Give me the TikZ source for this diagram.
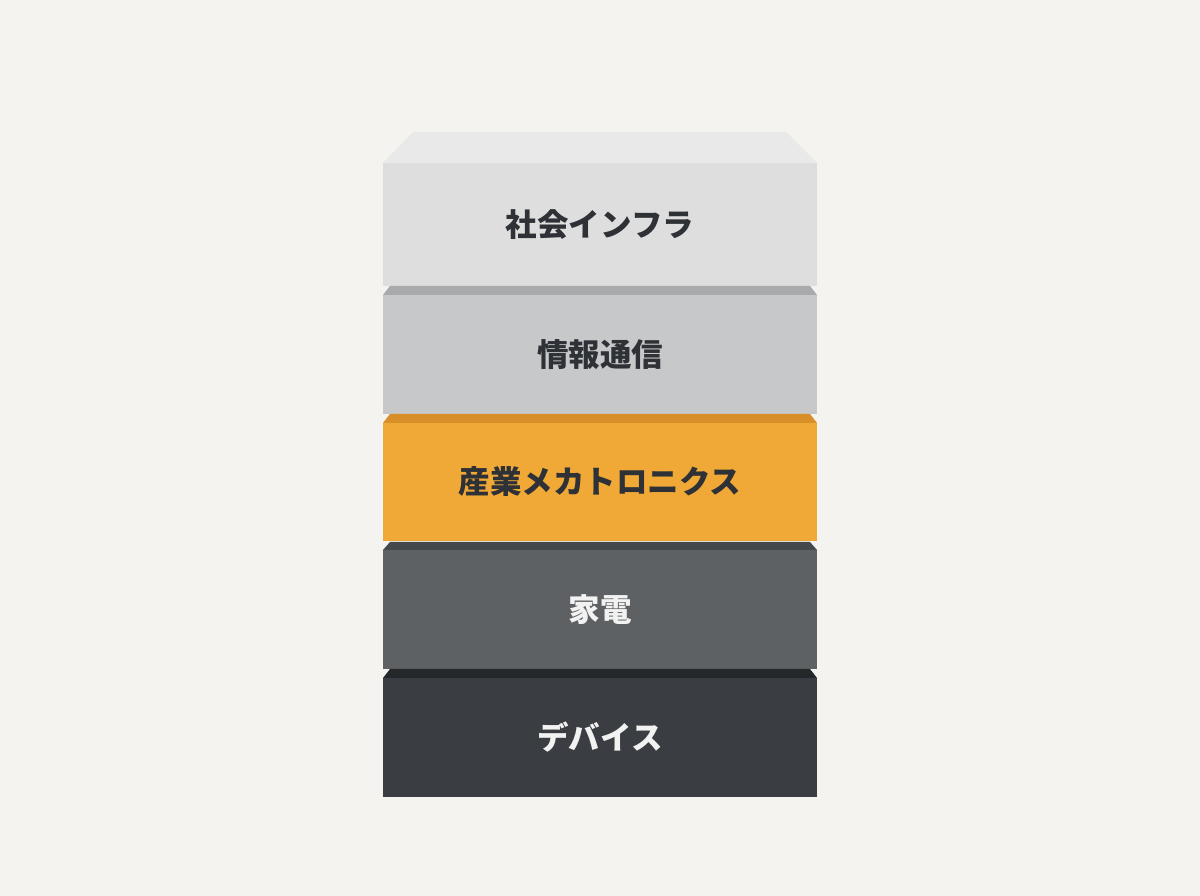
\documentclass[tikz,border=0pt]{standalone}
\usepackage{fontspec}
\newfontfamily\jp{Noto Sans CJK JP}
\begin{document}
\begin{tikzpicture}[x=1bp,y=1bp,
  front/.style={minimum width=434bp, inner sep=0pt, outer sep=0pt, anchor=north west,
     font=\jp\bfseries\fontsize{31.5bp}{36bp}\selectfont},
  darktext/.style={text=txtdark},
  lighttext/.style={text=txtlight}]
\definecolor{bg}{HTML}{F4F3EF}
\definecolor{txtdark}{HTML}{2E3135}
\definecolor{txtlight}{HTML}{F2F2F2}
\definecolor{topA}{HTML}{E9E9E9}
\definecolor{frontA}{HTML}{DEDEDE}
\definecolor{bevB}{HTML}{A9AAAB}
\definecolor{frontB}{HTML}{C7C8C9}
\definecolor{bevC}{HTML}{D98F27}
\definecolor{frontC}{HTML}{F0A937}
\definecolor{bevD}{HTML}{45484B}
\definecolor{frontD}{HTML}{5E6164}
\definecolor{bevE}{HTML}{25282B}
\definecolor{frontE}{HTML}{3A3D41}
\fill[bg] (0,0) rectangle (1200,896);
\useasboundingbox (0,0) rectangle (1200,896);
% front faces (y = 896 - pixel row)
\node[front, minimum height=123bp, fill=frontA, darktext] (f1) at (383,733) {社会インフラ};
\node[front, minimum height=119bp, fill=frontB, darktext] (f2) at (383,601) {情報通信};
\node[front, minimum height=118bp, fill=frontC, darktext] (f3) at (383,473) {産業メカトロニクス};
\node[front, minimum height=119bp, fill=frontD, lighttext] (f4) at (383,346) {家電};
\node[front, minimum height=119bp, fill=frontE, lighttext] (f5) at (383,218) {デバイス};
% top face of the stack
\fill[topA] (f1.north west) -- ([shift={(30,31)}]f1.north west) -- ([shift={(-31,31)}]f1.north east) -- (f1.north east) -- cycle;
% bevels between blocks
\fill[bevB] (f2.north west) -- ([shift={(7,9)}]f2.north west) -- ([shift={(-7,9)}]f2.north east) -- (f2.north east) -- cycle;
\fill[bevC] (f3.north west) -- ([shift={(7,9)}]f3.north west) -- ([shift={(-7,9)}]f3.north east) -- (f3.north east) -- cycle;
\fill[bevD] (f4.north west) -- ([shift={(7,8)}]f4.north west) -- ([shift={(-7,8)}]f4.north east) -- (f4.north east) -- cycle;
\fill[bevE] (f5.north west) -- ([shift={(7,9)}]f5.north west) -- ([shift={(-7,9)}]f5.north east) -- (f5.north east) -- cycle;
\end{tikzpicture}
\end{document}
